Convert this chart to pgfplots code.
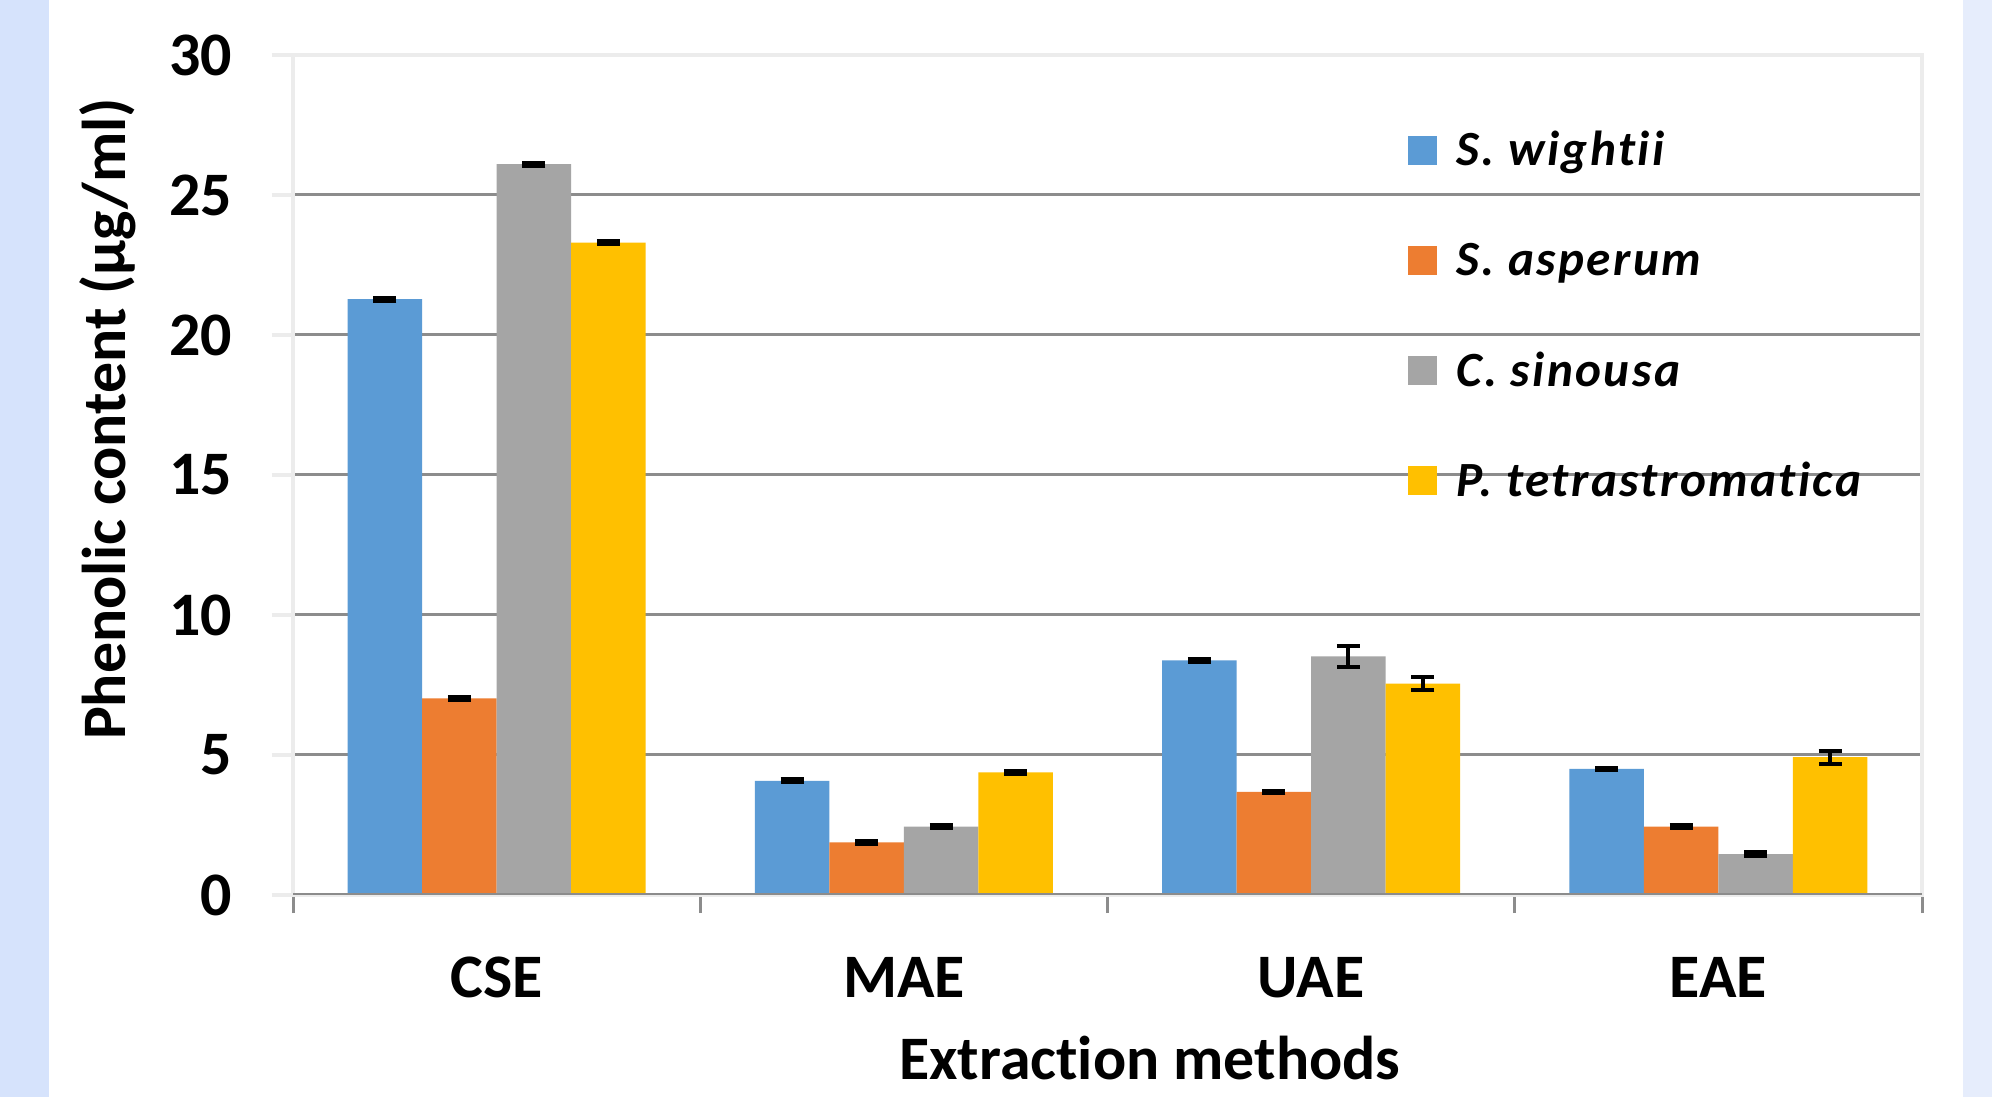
\documentclass[border=0pt]{standalone}
\usepackage{fontspec}
\setmainfont{Carlito}[Ligatures=CommonOff]
\usepackage{pgfplots}
\usepackage{pgfplotstable}
\pgfplotsset{compat=1.18}
\definecolor{cblue}{RGB}{91,155,213}
\definecolor{corange}{RGB}{237,125,49}
\definecolor{cgray}{RGB}{165,165,165}
\definecolor{cyellow}{RGB}{255,192,0}
\definecolor{gridgray}{RGB}{140,140,140}
\definecolor{bordergray}{RGB}{236,236,236}
\definecolor{stripL}{RGB}{214,227,252}
\definecolor{stripR}{RGB}{230,237,252}

\pgfplotstableread{
x  sw    swe  sa   sae  cs    cse  pt    pte
0  21.28 0.05 7.02 0.05 26.10 0.05 23.30 0.05
1  4.08  0.05 1.88 0.05 2.44  0.05 4.38  0.05
2  8.38  0.05 3.68 0.05 8.52  0.37 7.55  0.22
3  4.50  0.04 2.44 0.05 1.46  0.06 4.92  0.23
}\data

\begin{document}
\begin{tikzpicture}
\fill[white] (0,0) rectangle (199.2mm,109.7mm);
\fill[stripL] (0,0) rectangle (4.9mm,109.7mm);
\fill[stripR] (196.3mm,0) rectangle (199.2mm,109.7mm);
\begin{axis}[
  at={(29.3mm,20.2mm)}, anchor=south west,
  scale only axis, width=162.9mm, height=84mm,
  xmin=-0.5, xmax=3.5, ymin=0, ymax=30,
  ytick={0,5,...,30},
  xtick={0,1,2,3},
  xticklabels={CSE,MAE,UAE,EAE},
  minor xtick={-0.5,0.5,1.5,2.5,3.5},
  tick pos=left,
  tick align=outside,
  major tick length=2.1mm, minor tick length=1.8mm,
  major x tick style={draw=none},
  minor x tick style={draw=gridgray, line width=0.3mm},
  major y tick style={draw=bordergray, line width=0.4mm},
  axis line style={draw=bordergray, line width=0.4mm},
  ymajorgrids,
  major grid style={draw=gridgray, line width=0.3mm},
  /pgf/number format/assume math mode=true,
  tick label style={font=\bfseries\fontsize{17.6}{20}\selectfont, inner sep=0pt},
  yticklabel style={anchor=east, xshift=-3.9mm},
  xticklabel style={anchor=base, yshift=-8.1mm},
  xlabel={Extraction methods},
  ylabel={Phenolic content (µg/ml)},
  every axis x label/.style={at={(axis description cs:0.526,-0.2200)}, anchor=base,
    font=\bfseries\fontsize{17.6}{20}\selectfont, inner sep=0pt},
  every axis y label/.style={at={(axis description cs:-0.1031,0.5667)}, rotate=90, anchor=base,
    font=\bfseries\fontsize{17.6}{20}\selectfont, inner sep=0pt},
  ybar, bar width=0.183,
  legend cell align=left,
  legend style={at={(rel axis cs:0.6845,0.916)}, anchor=north west, draw=none, fill=none,
    inner sep=0pt, outer sep=0pt, row sep=6.13mm, column sep=1.9mm,
    font=\bfseries\itshape\fontsize{14}{16}\selectfont\addfontfeatures{LetterSpace=5},
    nodes={inner sep=0pt, text height=4.0mm, text depth=0.9mm}},
  legend image code/.code={\fill[#1] (0mm,-1.45mm) rectangle (2.9mm,1.45mm);},
  eb/.style={error bars/.cd, y dir=both, y explicit,
    error bar style={black, line width=0.4mm},
    error mark options={rotate=90, black, mark size=1.15mm, line width=0.4mm}},
]
\addplot[fill=cblue, draw=none, bar shift=-0.2745, eb] table[x=x, y=sw, y error=swe] {\data};
\addplot[fill=corange, draw=none, bar shift=-0.0915, eb] table[x=x, y=sa, y error=sae] {\data};
\addplot[fill=cgray, draw=none, bar shift=0.0915, eb] table[x=x, y=cs, y error=cse] {\data};
\addplot[fill=cyellow, draw=none, bar shift=0.2745, eb] table[x=x, y=pt, y error=pte] {\data};
\legend{S. wightii, S. asperum, C. sinousa, P. tetrastromatica}
\draw[gridgray, line width=0.33mm] (rel axis cs:0,0) -- (rel axis cs:1,0);
\end{axis}
\pgfresetboundingbox
\useasboundingbox (0,0) rectangle (199.2mm,109.7mm);
\end{tikzpicture}
\end{document}
